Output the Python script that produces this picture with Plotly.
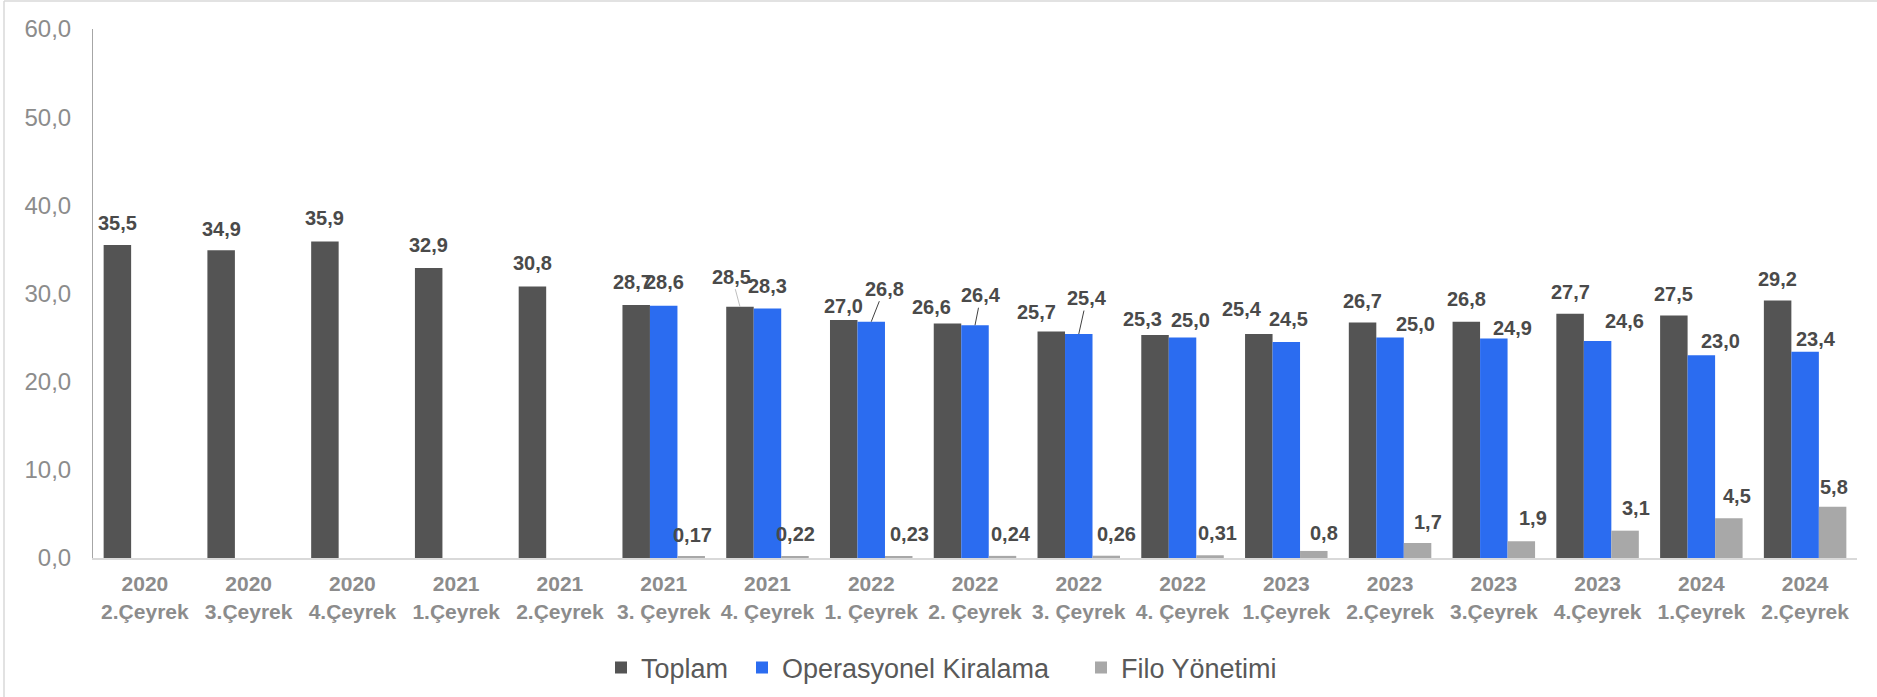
import plotly.graph_objects as go

# quarters (x axis)
categories = ["2020<br>2.Çeyrek", "2020<br>3.Çeyrek", "2020<br>4.Çeyrek",
              "2021<br>1.Çeyrek", "2021<br>2.Çeyrek", "2021<br>3. Çeyrek",
              "2021<br>4. Çeyrek", "2022<br>1. Çeyrek", "2022<br>2. Çeyrek",
              "2022<br>3. Çeyrek", "2022<br>4. Çeyrek", "2023<br>1.Çeyrek",
              "2023<br>2.Çeyrek", "2023<br>3.Çeyrek", "2023<br>4.Çeyrek",
              "2024<br>1.Çeyrek", "2024<br>2.Çeyrek"]

toplam = [35.5, 34.9, 35.9, 32.9, 30.8, 28.7, 28.5, 27.0, 26.6, 25.7,
          25.3, 25.4, 26.7, 26.8, 27.7, 27.5, 29.2]
operasyonel = [None, None, None, None, None, 28.6, 28.3, 26.8, 26.4, 25.4,
               25.0, 24.5, 25.0, 24.9, 24.6, 23.0, 23.4]
filo = [None, None, None, None, None, 0.17, 0.22, 0.23, 0.24, 0.26,
        0.31, 0.8, 1.7, 1.9, 3.1, 4.5, 5.8]

series_names = ["Toplam", "Operasyonel Kiralama", "Filo Yönetimi"]
colors = ["#545454", "#2b6cf0", "#a8a8a8"]

# label nudges in px (dx, dy from bar top), manual like the excel original
toplam_lbl = [(0, -22), (0, -21), (0, -23), (0, -23), (0, -23), (-4, -23),
              (-8, -30), (0, -14), (-16, -16), (-15, -19), (-13, -16),
              (-17, -25), (0, -22), (0, -23), (0, -22), (0, -22), (0, -22)]
oper_lbl = [None] * 5 + [(1, -24), (0, -22), (13, -33), (6, -30), (8, -36),
                         (8, -18), (2, -23), (25, -14), (19, -10), (27, -20),
                         (19, -14), (11, -13)]
filo_lbl = [None] * 5 + [(1, -22), (1, -22), (11, -22), (9, -22), (10, -22),
                         (7, -22), (10, -18), (10, -21), (12, -23), (11, -23),
                         (8, -22), (1, -20)]
leader = {(0, 6): "#bfbfbf", (1, 7): "#404040", (1, 8): "#404040", (1, 9): "#404040"}

W, H = 1877, 697
ml, mr, mt, mb = 93, 20, 29, 139
pw, ph = W - ml - mr, H - mt - mb
bargap = 0.205
cat_w = pw / len(categories)
bar_px = (1 - bargap) * cat_w / 3

# legend left edges in px (one legend box per series, spaced like the original)
legend_px = [601, 742, 1081]
legend_ids = ["legend", "legend2", "legend3"]

fig = go.Figure()
for name, vals, col, lg in zip(series_names, [toplam, operasyonel, filo], colors, legend_ids):
    fig.add_trace(go.Bar(x=categories, y=vals, name=name, marker_color=col,
                         marker_line_width=0, legend=lg))

lbl_font = dict(family="Liberation Sans, Arial", size=20, color="#4a4a4a")
for s, (vals, offs) in enumerate(zip([toplam, operasyonel, filo],
                                     [toplam_lbl, oper_lbl, filo_lbl])):
    shift = (s - 1) * bar_px
    for i, v in enumerate(vals):
        if v is None:
            continue
        dx, dy = offs[i]
        txt = "<b>" + str(v).replace(".", ",") + "</b>"
        if (s, i) in leader:
            fig.add_annotation(x=categories[i], y=v, xshift=shift, text=txt,
                               showarrow=True, arrowhead=0, arrowwidth=1,
                               arrowcolor=leader[(s, i)], ax=dx, ay=dy,
                               standoff=0, font=lbl_font)
        else:
            fig.add_annotation(x=categories[i], y=v, xshift=shift + dx,
                               yshift=-dy, text=txt, showarrow=False,
                               xanchor="center", yanchor="middle", font=lbl_font)

# thin frame at left and top of the picture
def px_x(p):
    return (p - ml) / pw

def px_y(p):
    return (mt + ph - p) / ph

fig.add_shape(type="line", xref="paper", yref="paper",
              x0=px_x(4), x1=px_x(4), y0=px_y(1), y1=px_y(H),
              line=dict(color="#d9d9d9", width=1.5))
fig.add_shape(type="line", xref="paper", yref="paper",
              x0=px_x(4), x1=px_x(W), y0=px_y(1), y1=px_y(1),
              line=dict(color="#d9d9d9", width=1.5))

leg_style = dict(orientation="h", xanchor="left", y=px_y(668), yanchor="middle",
                 font=dict(size=27, color="#595959"), itemwidth=30,
                 bgcolor="rgba(0,0,0,0)")

fig.update_layout(
    width=W, height=H, barmode="group", bargap=bargap, bargroupgap=0,
    margin=dict(l=ml, r=mr, t=mt, b=mb, autoexpand=False),
    plot_bgcolor="white", paper_bgcolor="white",
    separators=",.",
    font=dict(family="Liberation Sans, Arial", color="#595959"),
    legend=dict(x=px_x(legend_px[0]), **leg_style),
    legend2=dict(x=px_x(legend_px[1]), **leg_style),
    legend3=dict(x=px_x(legend_px[2]), **leg_style),
    showlegend=True,
)
fig.update_xaxes(showline=True, linecolor="#d9d9d9", linewidth=2,
                 ticks="", ticklabelstandoff=6,
                 tickfont=dict(size=21, color="#8c8c8c", weight="bold"))
fig.update_yaxes(range=[0, 60], dtick=10, tickformat=".1f", showgrid=False,
                 zeroline=False, showline=True, linecolor="#a6a6a6",
                 linewidth=1, ticks="", ticklabelstandoff=16,
                 tickfont=dict(size=24, color="#8c8c8c"))

fig.write_html("out.html", config={"displayModeBar": False},
               post_script="document.body.style.margin='0px';")
